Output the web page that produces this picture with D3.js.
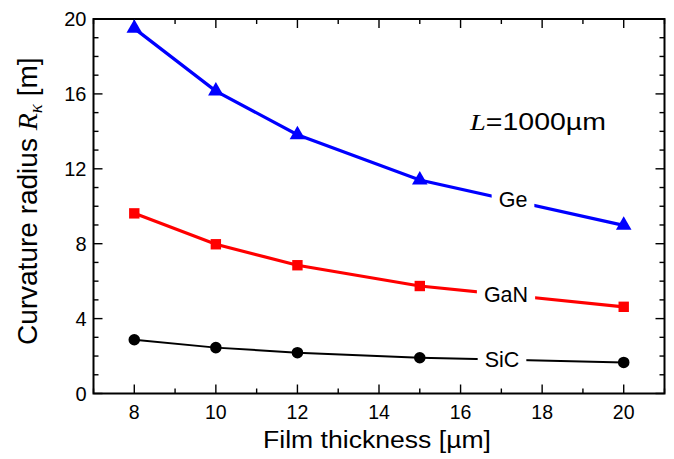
<!DOCTYPE html>
<html>
<head>
<meta charset="utf-8">
<script src="https://cdn.jsdelivr.net/npm/d3@7"></script>
<style>
  body { margin: 0; background: #fff; }
  svg { display: block; }
  text { font-family: "Liberation Sans", Arial, sans-serif; fill: #000; }
</style>
</head>
<body>
<svg id="chart" width="674" height="459"></svg>
<script>
// Film thickness (µm) and curvature radius (m) for each film material
const thickness = [8, 10, 12, 15, 20];
const geRadius  = [19.5, 16.15, 13.82, 11.4, 8.98];
const ganRadius = [9.62, 7.97, 6.85, 5.74, 4.63];
const sicRadius = [2.87, 2.45, 2.18, 1.91, 1.66];
const xTicks = [8, 10, 12, 14, 16, 18, 20];
const yTicks = [0, 4, 8, 12, 16, 20];

const svg = d3.select("#chart");
const margin = { left: 93.5, right: 9.5, top: 19, bottom: 65.5 };
const W = 674, H = 459;
const x = d3.scaleLinear().domain([7, 21]).range([margin.left, W - margin.right]);
const y = d3.scaleLinear().domain([0, 20]).range([H - margin.bottom, margin.top]);

const x0 = x.range()[0], x1 = x.range()[1];
const y0 = y.range()[0], y1 = y.range()[1];

// Mirrored inward ticks on all four sides
const MAJ = 9, MIN = 5;
const g = svg.append("g").attr("stroke", "#000").attr("stroke-width", 1.4);
d3.range(7, 21.5, 1).forEach(v => {
  const len = v % 2 === 0 ? MAJ : MIN;
  g.append("line").attr("x1", x(v)).attr("x2", x(v)).attr("y1", y0).attr("y2", y0 - len);
  g.append("line").attr("x1", x(v)).attr("x2", x(v)).attr("y1", y1).attr("y2", y1 + len);
});
d3.range(0, 20.5, 1).forEach(v => {
  const len = v % 4 === 0 ? MAJ : MIN;
  g.append("line").attr("x1", x0).attr("x2", x0 + len).attr("y1", y(v)).attr("y2", y(v));
  g.append("line").attr("x1", x1).attr("x2", x1 - len).attr("y1", y(v)).attr("y2", y(v));
});
svg.append("rect").attr("x", x0).attr("y", y1).attr("width", x1 - x0).attr("height", y0 - y1)
  .attr("fill", "none").attr("stroke", "#000").attr("stroke-width", 2);

// Tick labels
svg.append("g").selectAll("text").data(xTicks).join("text")
  .attr("x", d => x(d)).attr("y", y0 + 25).attr("text-anchor", "middle")
  .attr("font-size", 19.5).text(d => d);
svg.append("g").selectAll("text").data(yTicks).join("text")
  .attr("x", x0 - 7).attr("y", d => y(d) + 7).attr("text-anchor", "end")
  .attr("font-size", 20).text(d => d);

// Axis titles
svg.append("text").attr("x", 263).attr("y", 448)
  .attr("font-size", 23).attr("textLength", 228).attr("lengthAdjust", "spacingAndGlyphs")
  .text("Film thickness [µm]");
const yt = svg.append("text").attr("transform", `translate(37,${(y0 + y1) / 2 - 5}) rotate(-90)`)
  .attr("text-anchor", "middle").attr("font-size", 28);
yt.append("tspan").text("Curvature radius ");
yt.append("tspan").attr("font-family", "Liberation Serif, serif").attr("font-style", "italic").text("R");
yt.append("tspan").attr("font-family", "Liberation Serif, serif").attr("font-style", "italic")
  .attr("font-size", 19).attr("dy", 5).text("κ");
yt.append("tspan").attr("dy", -5).text(" [m]");

// Series
const series = [
  { name: "Ge",  values: geRadius,  color: "#0000ff", width: 3.2, marker: d3.symbolTriangle, size: 105, label: [513, 207] },
  { name: "GaN", values: ganRadius, color: "#ff0000", width: 3.2, marker: d3.symbolSquare,   size: 108, label: [506, 301.5] },
  { name: "SiC", values: sicRadius, color: "#000000", width: 2,   marker: d3.symbolCircle,   size: 105, label: [502, 367] }
];
const line = d3.line().x(d => x(d[0])).y(d => y(d[1]));

series.forEach(s => {
  const pts = thickness.map((t, i) => [t, s.values[i]]);
  svg.append("path").attr("d", line(pts)).attr("fill", "none")
    .attr("stroke", s.color).attr("stroke-width", s.width);
  svg.append("g").selectAll("path").data(pts).join("path")
    .attr("transform", d => `translate(${x(d[0])},${y(d[1])})`)
    .attr("d", d3.symbol().type(s.marker).size(s.size)).attr("fill", s.color);
  // Series label on a white patch that breaks the line
  const lg = svg.append("g");
  const bg = lg.append("rect").attr("fill", "#fff");
  const t = lg.append("text").attr("x", s.label[0]).attr("y", s.label[1])
    .attr("text-anchor", "middle").attr("font-size", 21.5).text(s.name);
  const b = t.node().getBBox();
  bg.attr("x", b.x - 7).attr("y", b.y - 2).attr("width", b.width + 14).attr("height", b.height + 4);
});

// Annotation
const ann = svg.append("text").attr("x", 470).attr("y", 130).attr("font-size", 24)
  .attr("textLength", 136).attr("lengthAdjust", "spacingAndGlyphs");
ann.append("tspan").attr("font-family", "Liberation Serif, serif").attr("font-style", "italic").text("L");
ann.append("tspan").text("=1000µm");
</script>
</body>
</html>
